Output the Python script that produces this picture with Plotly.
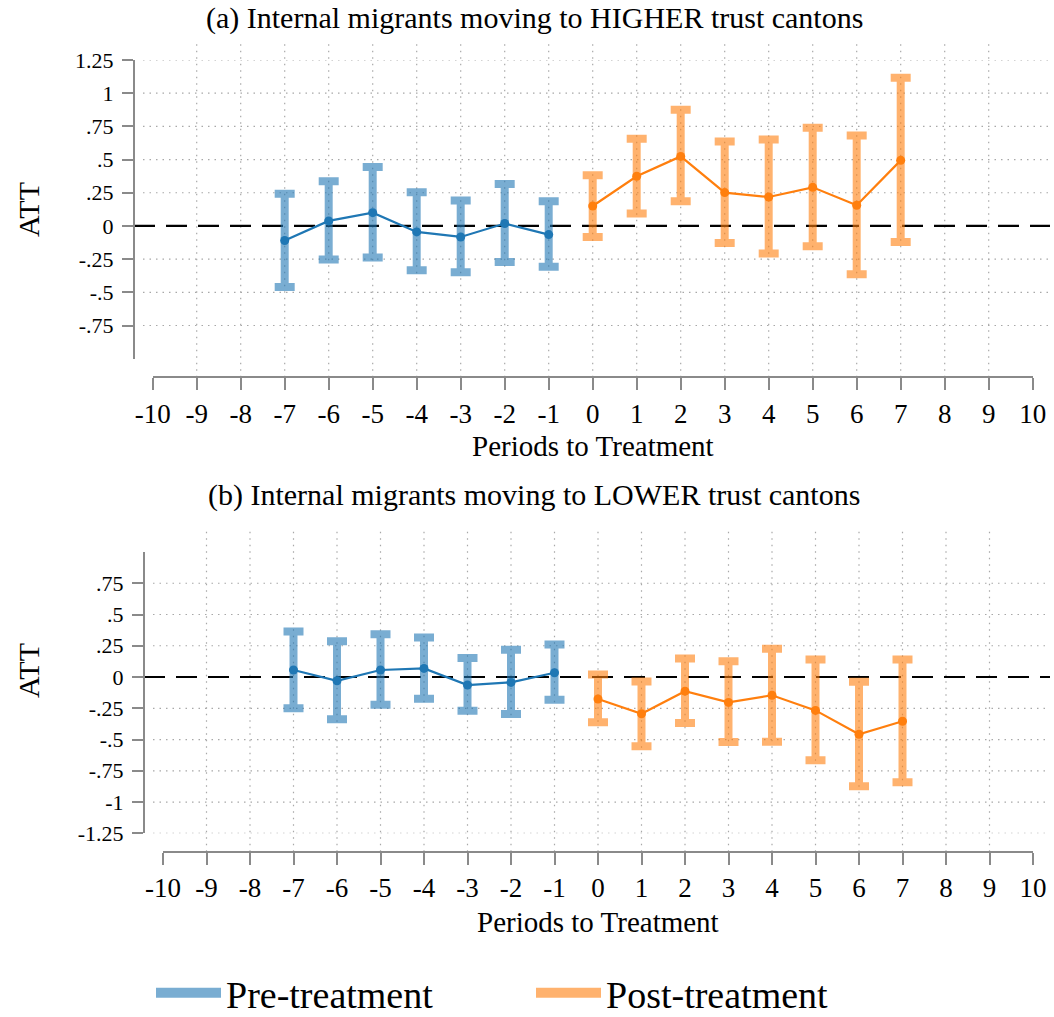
import plotly.graph_objects as go

# ---------------- data ----------------
periods_pre = [-7, -6, -5, -4, -3, -2, -1]
periods_post = [0, 1, 2, 3, 4, 5, 6, 7]

# (a) moving to HIGHER trust cantons
a_pre_att = [-0.110, 0.038, 0.100, -0.045, -0.083, 0.018, -0.065]
a_pre_lo = [-0.459, -0.253, -0.238, -0.333, -0.348, -0.271, -0.308]
a_pre_hi = [0.243, 0.336, 0.444, 0.253, 0.191, 0.316, 0.186]
a_post_att = [0.150, 0.374, 0.524, 0.251, 0.218, 0.291, 0.156, 0.494]
a_post_lo = [-0.083, 0.093, 0.186, -0.128, -0.208, -0.153, -0.363, -0.120]
a_post_hi = [0.381, 0.657, 0.875, 0.637, 0.652, 0.740, 0.682, 1.116]

# (b) moving to LOWER trust cantons
b_pre_att = [0.056, -0.030, 0.056, 0.069, -0.064, -0.043, 0.034]
b_pre_lo = [-0.250, -0.338, -0.221, -0.173, -0.269, -0.295, -0.181]
b_pre_hi = [0.364, 0.287, 0.343, 0.316, 0.152, 0.218, 0.260]
b_post_att = [-0.176, -0.294, -0.113, -0.203, -0.146, -0.267, -0.458, -0.354]
b_post_lo = [-0.362, -0.554, -0.368, -0.520, -0.517, -0.666, -0.873, -0.841]
b_post_hi = [0.021, -0.035, 0.148, 0.127, 0.226, 0.140, -0.038, 0.140]

x_ticks = list(range(-10, 11))
a_yticks = [1.25, 1, 0.75, 0.5, 0.25, 0, -0.25, -0.5, -0.75]
a_yticklabels = ["1.25", "1", ".75", ".5", ".25", "0", "-.25", "-.5", "-.75"]
b_yticks = [0.75, 0.5, 0.25, 0, -0.25, -0.5, -0.75, -1, -1.25]
b_yticklabels = [".75", ".5", ".25", "0", "-.25", "-.5", "-.75", "-1", "-1.25"]

titles = ["(a) Internal migrants moving to HIGHER trust cantons",
          "(b) Internal migrants moving to LOWER trust cantons"]
x_title = "Periods to Treatment"
y_title = "ATT"
legend_names = ["Pre-treatment", "Post-treatment"]

# ---------------- style ----------------
W, H = 1054, 1017
FONT = "Liberation Serif"
BLUE = "#1f77b4"
ORANGE = "#ff7f0e"
BLUE_BAR = "rgba(31,119,180,0.6)"
ORANGE_BAR = "rgba(255,127,14,0.6)"
AXIS_COL = "#8a8a8a"
GRID_COL = "#a8a8a8"


def fx(px):
    return px / W


def fy(py):
    return 1 - py / H


def err(att, lo, hi):
    return ([h - a for a, h in zip(att, hi)], [a - l for a, l in zip(att, lo)])


fig = go.Figure()

panels = [
    dict(xa="x", ya="y", pre=(a_pre_att, a_pre_lo, a_pre_hi), post=(a_post_att, a_post_lo, a_post_hi)),
    dict(xa="x2", ya="y2", pre=(b_pre_att, b_pre_lo, b_pre_hi), post=(b_post_att, b_post_lo, b_post_hi)),
]

for p in panels:
    for xs, (att, lo, hi), col, bcol in [(periods_pre, p["pre"], BLUE, BLUE_BAR),
                                         (periods_post, p["post"], ORANGE, ORANGE_BAR)]:
        up, dn = err(att, lo, hi)
        fig.add_trace(go.Scatter(
            x=xs, y=att, xaxis=p["xa"], yaxis=p["ya"], mode="lines+markers",
            line=dict(color=col, width=2.2), marker=dict(color=col, size=9),
            error_y=dict(type="data", symmetric=False, array=up, arrayminus=dn,
                         color=bcol, thickness=8, width=10),
            showlegend=False, hoverinfo="skip", cliponaxis=False))

# legend entries
for name, bcol in zip(legend_names, [BLUE_BAR, ORANGE_BAR]):
    fig.add_trace(go.Scatter(x=[None], y=[None], mode="lines", name=name,
                             line=dict(color=bcol, width=10)))

# ---------------- axes geometry (pixels) ----------------
geo = [
    dict(xdom=(152.7, 1032.7), xpos=377.3, ydom=(358.7, 60.0), yrange=[-1, 1.25], ypos=134,
         grid_left=143, grid_top=42, title_y=18, xlab_y=446, ylab_y=210,
         yticks=a_yticks, ylabels=a_yticklabels),
    dict(xdom=(163.0, 1033.0), xpos=851.7, ydom=(833.3, 552.0), yrange=[-1.25, 1.0], ypos=144,
         grid_left=153, grid_top=528, title_y=495, xlab_y=922, ylab_y=671,
         yticks=b_yticks, ylabels=b_yticklabels),
]

axis_font = dict(family=FONT, size=27, color="black")
ytick_font = dict(family=FONT, size=22, color="black")

layout = dict(width=W, height=H, margin=dict(l=0, r=0, t=0, b=0, autoexpand=False),
              paper_bgcolor="white", plot_bgcolor="rgba(0,0,0,0)",
              font=dict(family=FONT, color="black"), showlegend=True,
              legend=dict(orientation="h", x=fx(151), xanchor="left", y=fy(993), yanchor="middle",
                          font=dict(family=FONT, size=38, color="black"),
                          itemwidth=65, entrywidth=300, bgcolor="rgba(0,0,0,0)"))

shapes = []
annotations = []
for i, g in enumerate(geo):
    xn = "xaxis" if i == 0 else "xaxis2"
    yn = "yaxis" if i == 0 else "yaxis2"
    xr = "x" if i == 0 else "x2"
    yr = "y" if i == 0 else "y2"
    layout[xn] = dict(domain=[fx(g["xdom"][0]), fx(g["xdom"][1])], range=[-10, 10],
                      anchor="free", position=fy(g["xpos"]),
                      tickvals=x_ticks, ticktext=[str(t) for t in x_ticks],
                      showline=True, linecolor=AXIS_COL, linewidth=2,
                      ticks="outside", ticklen=12, tickwidth=2, tickcolor=AXIS_COL,
                      tickfont=axis_font, showgrid=False, zeroline=False, automargin=False,
                      ticklabelstandoff=0, fixedrange=True)
    layout[yn] = dict(domain=[fy(g["ydom"][0]), fy(g["ydom"][1])], range=g["yrange"],
                      anchor="free", position=fx(g["ypos"]),
                      tickvals=g["yticks"], ticktext=g["ylabels"],
                      showline=True, linecolor=AXIS_COL, linewidth=2,
                      ticks="outside", ticklen=11, tickwidth=2, tickcolor=AXIS_COL,
                      tickfont=ytick_font, showgrid=False, zeroline=False, automargin=False,
                      ticklabelstandoff=4, fixedrange=True)
    # horizontal dotted grid at y ticks (except 0)
    for t in g["yticks"]:
        if t == 0:
            continue
        shapes.append(dict(type="line", xref="paper", yref=yr, x0=fx(g["grid_left"]), x1=fx(1050),
                           y0=t, y1=t, line=dict(color=GRID_COL, width=1.2, dash="1.5px,5px"),
                           layer="below"))
    # vertical dotted grid at x ticks (interior)
    for t in x_ticks[1:-1]:
        shapes.append(dict(type="line", xref=xr, yref="paper", x0=t, x1=t,
                           y0=fy(g["xpos"]), y1=fy(g["grid_top"]),
                           line=dict(color=GRID_COL, width=1.2, dash="1.5px,5px"), layer="below"))
    # dashed zero line
    shapes.append(dict(type="line", xref="paper", yref=yr, x0=fx(g["ypos"]), x1=fx(1050),
                       y0=0, y1=0, line=dict(color="black", width=2.2, dash="21px,11px"),
                       layer="below"))
    annotations.append(dict(text=titles[i], xref="paper", yref="paper", x=fx(534), y=fy(g["title_y"]),
                            xanchor="center", yanchor="middle", showarrow=False,
                            font=dict(family=FONT, size=30, color="black")))
    annotations.append(dict(text=x_title, xref="paper", yref="paper",
                            x=fx((g["xdom"][0] + g["xdom"][1]) / 2), y=fy(g["xlab_y"]),
                            xanchor="center", yanchor="middle", showarrow=False,
                            font=dict(family=FONT, size=29, color="black")))
    annotations.append(dict(text=y_title, xref="paper", yref="paper", x=fx(28), y=fy(g["ylab_y"]),
                            xanchor="center", yanchor="middle", showarrow=False, textangle=-90,
                            font=dict(family=FONT, size=30, color="black")))

layout["shapes"] = shapes
layout["annotations"] = annotations
fig.update_layout(**layout)

fig.write_html("out.html", config={"displayModeBar": False},
               post_script="document.body.style.margin='0';document.body.style.overflow='hidden';")
